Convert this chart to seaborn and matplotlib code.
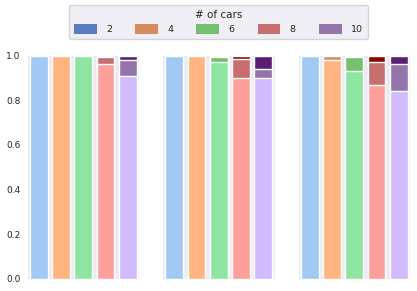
import matplotlib
matplotlib.use('Agg')
import matplotlib.pyplot as plt
import matplotlib.patches as mpatches
import seaborn as sns
import pandas as pd

# number of cars per bar, same order in every panel
cars = ['2', '4', '6', '8', '10']

# share of each bar in the light / medium / dark segment, one list per panel
low_1 = [1.0, 1.0, 0.996, 0.96, 0.91]
mid_1 = [0.0, 0.0, 0.004, 0.034, 0.072]
high_1 = [0.0, 0.0, 0.0, 0.006, 0.018]

low_2 = [1.0, 1.0, 0.97, 0.90, 0.90]
mid_2 = [0.0, 0.0, 0.024, 0.086, 0.04]
high_2 = [0.0, 0.0, 0.006, 0.014, 0.06]

low_3 = [1.0, 0.98, 0.93, 0.87, 0.84]
mid_3 = [0.0, 0.02, 0.063, 0.102, 0.122]
high_3 = [0.0, 0.0, 0.007, 0.028, 0.038]

panels = [(low_1, mid_1, high_1), (low_2, mid_2, high_2), (low_3, mid_3, high_3)]

sns.set_theme(style='dark')
plt.rcParams['font.family'] = ['DejaVu Sans']
plt.rcParams['ytick.labelsize'] = 6.5
plt.rcParams['ytick.major.size'] = 0
plt.rcParams['ytick.major.pad'] = 5.0

pastel = sns.color_palette('pastel', 5)
# medium shade comes out a bit greyer in the reference
muted = [sns.desaturate(c, 0.75) for c in sns.color_palette('muted', 5)]
dark = sns.color_palette('dark', 5)

fig = plt.figure(figsize=(4.17, 2.91), dpi=100)
W, H = 417, 291
axes = []
for i in range(3):
    left = 27.5 + i * 135.5
    ax = fig.add_axes([left / W, 1 - 279 / H, 111.5 / W, (279 - 55.5) / H],
                      sharey=axes[0] if axes else None)
    axes.append(ax)

for ax, (low, mid, high) in zip(axes, panels):
    df = pd.DataFrame({'cars': cars, 'low': low, 'mid': mid, 'high': high})
    df['top_mid'] = df['low'] + df['mid']
    df['top'] = df['top_mid'] + df['high']
    # draw the tallest stack first, then overlay the shorter ones
    for col, pal in [('top', dark), ('top_mid', muted), ('low', pastel)]:
        sns.barplot(data=df, x='cars', y=col, hue='cars', order=cars, hue_order=cars,
                    palette=pal, saturation=1, legend=False, width=0.8,
                    edgecolor='white', linewidth=1, ax=ax)
    ax.set_xlim(-0.5, 4.5)
    ax.set_ylim(0, 1.0)
    ax.set_xlabel('')
    ax.set_ylabel('')
    ax.set_xticks([])
    for s in ax.spines.values():
        s.set_visible(False)

axes[0].set_yticks([0.0, 0.2, 0.4, 0.6, 0.8, 1.0])
for ax in axes[1:]:
    ax.tick_params(axis='y', labelleft=False)

handles = [mpatches.Patch(facecolor=muted[i], edgecolor='none', label=c)
           for i, c in enumerate(cars)]
leg = fig.legend(handles=handles, title='# of cars', ncol=5, loc='upper center',
                 bbox_to_anchor=(218.5 / W, 1 - 5 / H), borderaxespad=0,
                 fontsize=6.8, title_fontsize=7.5, handlelength=2.4,
                 handleheight=1.1, handletextpad=1.0, columnspacing=2.45,
                 borderpad=0.5, frameon=True)

fig.savefig('out.png', dpi=100)
